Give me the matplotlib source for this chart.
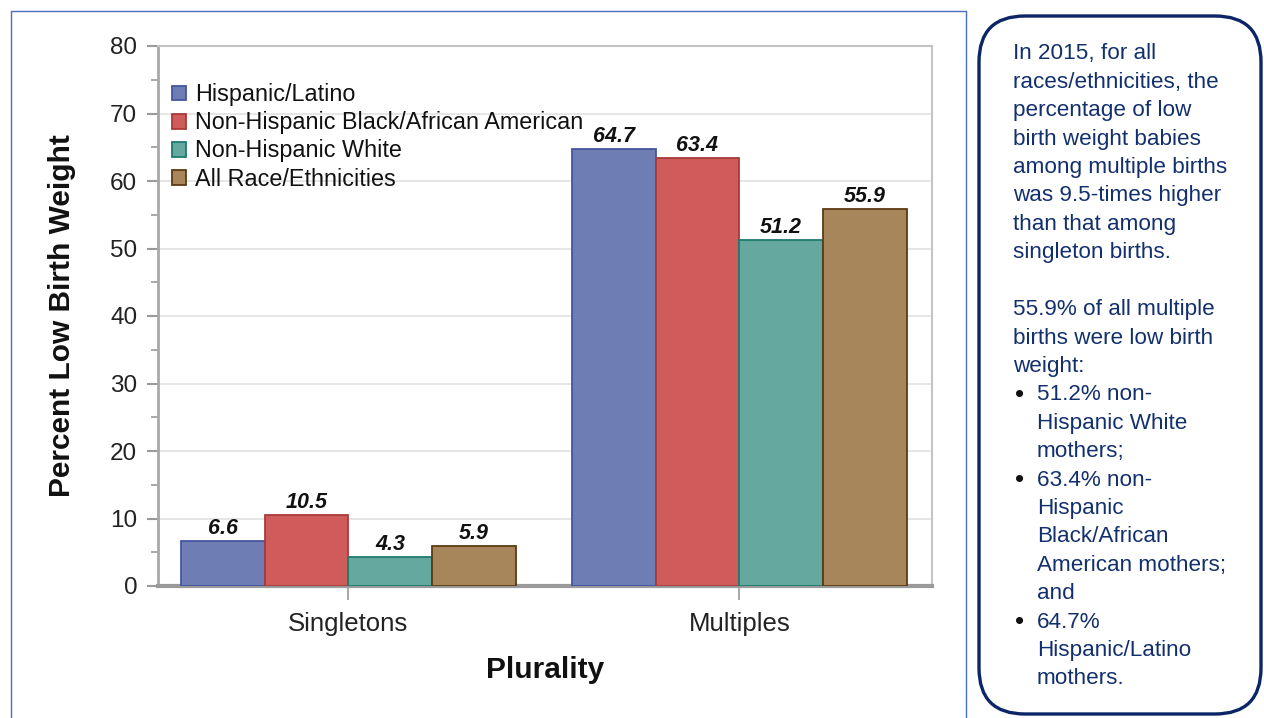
import matplotlib
matplotlib.use("Agg")
import matplotlib.pyplot as plt
import numpy as np
from matplotlib.patches import FancyBboxPatch

plt.rcParams['font.family'] = ['Liberation Sans', 'DejaVu Sans']

categories = ["Singletons", "Multiples"]
series_names = ["Hispanic/Latino", "Non-Hispanic Black/African American",
                "Non-Hispanic White", "All Race/Ethnicities"]
hispanic = [6.6, 64.7]
black = [10.5, 63.4]
white = [4.3, 51.2]
all_races = [5.9, 55.9]
series_values = [hispanic, black, white, all_races]
y_ticks = [0, 10, 20, 30, 40, 50, 60, 70, 80]

face_colors = ["#6E7DB3", "#D05B5B", "#65A8A0", "#A8865B"]
edge_colors = ["#4656A0", "#A83A3A", "#1F7A6E", "#5C3A12"]
text_navy = "#13306E"

W, H = 1264, 718
fig = plt.figure(figsize=(W/100, H/100), dpi=100)

# overlay in pixel units for the panel frame and the note box
over = fig.add_axes([0, 0, 1, 1], zorder=-1)
over.set_xlim(0, W)
over.set_ylim(H, 0)
over.axis("off")

frame_color = "#4A6FC0"
over.plot([11, 11, 966, 966], [H, 11, 11, H], color=frame_color, lw=1.0)

box = FancyBboxPatch((979, 16), 1261 - 979, 714 - 16,
                     boxstyle="round,pad=0,rounding_size=46",
                     facecolor="white", edgecolor="#0B2566", linewidth=2.4)
over.add_patch(box)

ax = fig.add_axes([158/W, 1-586/H, (932-158)/W, (586-46)/H])

x = np.arange(len(categories))
bar_w = 0.2142
offsets = (np.arange(4) - 1.5) * bar_w
for i, (vals, name) in enumerate(zip(series_values, series_names)):
    bars = ax.bar(x + offsets[i], vals, width=bar_w, color=face_colors[i],
                  edgecolor=edge_colors[i], linewidth=1.3, label=name, zorder=3)
    for b, v in zip(bars, vals):
        ax.annotate(f"{v:.1f}", (b.get_x() + b.get_width()/2, v),
                    xytext=(0, 1.5), textcoords="offset points",
                    ha="center", va="bottom", fontsize=15.5,
                    fontweight="bold", fontstyle="italic", color="#111111")

ax.set_xlim(-0.487, 1.493)
ax.set_ylim(0, 80)
ax.set_yticks(y_ticks)
ax.set_yticks([5, 15, 25, 35, 45, 55, 65, 75], minor=True)
ax.set_xticks(x)
ax.set_xticklabels(categories, fontsize=18.5)
ax.tick_params(axis="y", which="major", labelsize=17.5, length=8, width=1.5,
               color="#9A9A9A", direction="out", pad=7, labelcolor="#222222")
ax.tick_params(axis="y", which="minor", length=5, width=1.2, color="#9A9A9A")
ax.tick_params(axis="x", length=10, width=1.2, color="#9A9A9A", pad=9,
               labelcolor="#222222")

ax.yaxis.grid(True, color="#E2E2E2", linewidth=1.2, zorder=0)
ax.set_axisbelow(True)
for side in ["top", "right"]:
    ax.spines[side].set_color("#C4C4C4")
    ax.spines[side].set_linewidth(1.5)
ax.spines["left"].set_color("#A8A8A8")
ax.spines["left"].set_linewidth(2.0)
ax.spines["bottom"].set_color("#9A9A9A")
ax.spines["bottom"].set_linewidth(3.0)

ax.set_xlabel("Plurality", fontsize=21.5, fontweight="bold", color="#111111")
ax.xaxis.set_label_coords(0.5, -(670 - 586) / (586 - 46), transform=ax.transAxes)
ax.xaxis.label.set_va("center")
ax.set_ylabel("Percent Low Birth Weight", fontsize=21.5, fontweight="bold", color="#111111")
ax.yaxis.set_label_coords(-(158 - 62) / (932 - 158), 0.5, transform=ax.transAxes)
ax.yaxis.label.set_va("center")

leg = ax.legend(loc="upper left", bbox_to_anchor=(0.0, 0.957), frameon=False,
                fontsize=16.8, handlelength=0.6, handleheight=0.6,
                handletextpad=0.4, labelspacing=0.22, borderaxespad=0.2)
for t in leg.get_texts():
    t.set_color("#111111")

note_lines = [
    (0, "In 2015, for all"),
    (0, "races/ethnicities, the"),
    (0, "percentage of low"),
    (0, "birth weight babies"),
    (0, "among multiple births"),
    (0, "was 9.5-times higher"),
    (0, "than that among"),
    (0, "singleton births."),
    (0, ""),
    (0, "55.9% of all multiple"),
    (0, "births were low birth"),
    (0, "weight:"),
    (2, "51.2% non-"),
    (1, "Hispanic White"),
    (1, "mothers;"),
    (2, "63.4% non-"),
    (1, "Hispanic"),
    (1, "Black/African"),
    (1, "American mothers;"),
    (1, "and"),
    (2, "64.7%"),
    (1, "Hispanic/Latino"),
    (1, "mothers."),
]
y0 = 54
dy = 28.4
for k, (indent, txt) in enumerate(note_lines):
    yy = y0 + k*dy
    xx = 1013 if indent == 0 else 1037
    over.text(xx, yy, txt, fontsize=16.2, color=text_navy, va="center", ha="left")
    if indent == 2:
        over.text(1020, yy, "\u2022", fontsize=19, color="#111111", va="center", ha="center")

fig.savefig("out.png", dpi=100)
